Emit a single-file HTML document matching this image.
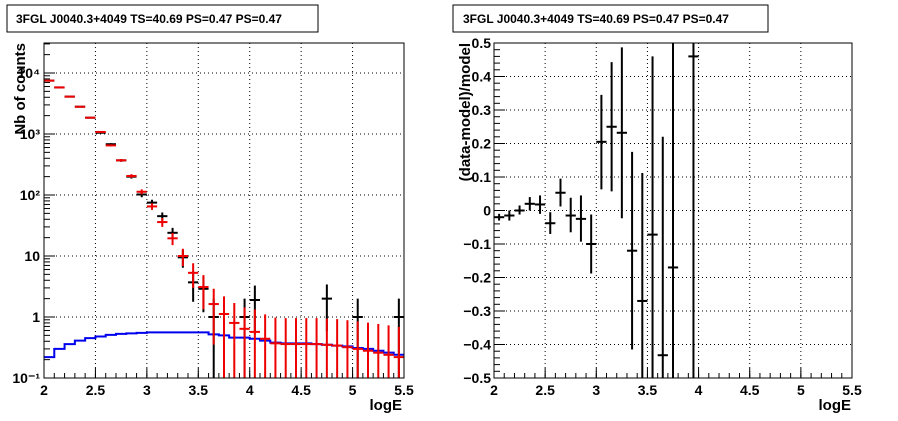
<!DOCTYPE html>
<html><head><meta charset="utf-8"><style>
html,body{margin:0;padding:0;background:#fff;}
svg{display:block;font-family:"Liberation Sans",Arial,sans-serif;}
</style></head><body>
<svg id="c" width="898" height="421" viewBox="0 0 898 421" xmlns="http://www.w3.org/2000/svg">
<rect x="0" y="0" width="898" height="421" fill="#fff"/>
<g id="L"></g>
<g id="R"></g>
</svg>
<script>
const binCenters=[2.05,2.15,2.25,2.35,2.45,2.55,2.65,2.75,2.85,2.95,3.05,3.15,3.25,3.35,3.45,3.55,3.65,3.75,3.85,3.95,4.05,4.15,4.25,4.35,4.45,4.55,4.65,4.75,4.85,4.95,5.05,5.15,5.25,5.35,5.45];
const dataCounts=[7500,5800,4100,2800,1850,1050,680,370,200,102,75,45,24,9.5,3.7,2.9,1,0,0,1,1.9,0,0,0,0,0,0,2,0,0,1,0,0,0,1];
const modelCounts=[7500,5800,4100,2800,1850,1080,650,370,205,113,65,36,19.5,10,5.3,3.1,1.63,1.12,0.8,0.64,0.57,0.44,0.37,0.36,0.36,0.36,0.36,0.35,0.34,0.32,0.30,0.28,0.26,0.24,0.22];
const blueModel=[0.22,0.30,0.36,0.41,0.45,0.48,0.51,0.53,0.54,0.55,0.56,0.56,0.56,0.56,0.56,0.56,0.52,0.50,0.46,0.46,0.44,0.41,0.38,0.37,0.37,0.37,0.36,0.35,0.34,0.33,0.31,0.30,0.28,0.26,0.24];
const resCenters=[2.05,2.15,2.25,2.35,2.45,2.55,2.65,2.75,2.85,2.95,3.05,3.15,3.25,3.35,3.45,3.55,3.65,3.75,3.95];
const resValues=[-0.02,-0.015,0.0,0.02,0.018,-0.038,0.053,-0.015,-0.025,-0.1,0.205,0.25,0.232,-0.12,-0.27,-0.072,-0.432,-0.17,0.46];
const resHi=[-0.01,0.0,0.015,0.04,0.045,-0.005,0.095,0.038,0.045,-0.012,0.345,0.443,0.487,0.175,0.112,0.46,0.22,1,1];
const resLo=[-0.03,-0.03,-0.012,0.0,-0.01,-0.07,0.012,-0.065,-0.093,-0.188,0.063,0.057,-0.023,-0.415,-1,-0.6,-1,-1,-1];
const xTickLabels=["2","2.5","3","3.5","4","4.5","5","5.5"];
const resTickLabels=["0.5","0.4","0.3","0.2","0.1","0","\u22120.1","\u22120.2","\u22120.3","\u22120.4","\u22120.5"];

const NS="http://www.w3.org/2000/svg";
function mk(p,t,a,txt){const e=document.createElementNS(NS,t);for(const k in a)e.setAttribute(k,a[k]);if(txt!==undefined)e.textContent=txt;p.appendChild(e);return e;}

// Left panel
const L=document.getElementById('L');
const lx0=44,lx1=404,ly0=43,ly1=378;
const lX=v=>lx0+(v-2)/3.5*(lx1-lx0);
const yMaxLog=Math.log10(0.1)+(ly1-ly0)/61;
const lY=v=>ly1-(Math.log10(Math.max(v,1e-9))+1)*61;
const clampY=y=>Math.min(ly1,Math.max(ly0,y));
// title box
let t=mk(L,'rect',{x:7,y:5,width:311,height:27,fill:'#fff',stroke:'#000','stroke-width':1});

t=mk(L,'text',{x:16,y:23,'font-size':12,'font-weight':'bold'},'3FGL J0040.3+4049 TS=40.69 PS=0.47 PS=0.47');

// grid
for(let i=0;i<xTickLabels.length;i++){const v=2+i*0.5,x=lX(v);
 if(i>0&&i<7){const g=mk(L,'line',{x1:x,x2:x,y1:ly0,y2:ly1,stroke:'#000','stroke-dasharray':'1,3'});}
 const tk=mk(L,'line',{x1:x,x2:x,y1:ly1,y2:ly1-10,stroke:'#000'});
 const tl=mk(L,'text',{x:x,y:395,'font-size':14,'font-weight':'bold','text-anchor':'middle'},xTickLabels[i]);
}
for(let v=2.1;v<5.5;v+=0.1){const x=lX(v);const m=mk(L,'line',{x1:x,x2:x,y1:ly1,y2:ly1-5,stroke:'#000'});}
const decs=[-1,0,1,2,3,4];
const decLabels=["10\u207B\u00B9","1","10","10\u00B2","10\u00B3","10\u2074"];
decs.forEach((d,i)=>{const y=lY(Math.pow(10,d));
 if(d>-1){const g=mk(L,'line',{x1:lx0,x2:lx1,y1:y,y2:y,stroke:'#000','stroke-dasharray':'1,3'});}
 const tk=mk(L,'line',{x1:lx0,x2:lx0+11,y1:y,y2:y,stroke:'#000'});
 const tl=mk(L,'text',{x:lx0-4,y:y+5,'font-size':14,'font-weight':'bold','text-anchor':'end'},decLabels[i]);
 for(let k=2;k<10;k++){const yy=lY(k*Math.pow(10,d));if(yy<ly0)break;const m=mk(L,'line',{x1:lx0,x2:lx0+6,y1:yy,y2:yy,stroke:'#000'});}
});
t=mk(L,'text',{x:0,y:0,'font-size':15,'font-weight':'bold','text-anchor':'end',transform:'translate(25,43) rotate(-90)'},'Nb of counts');

t=mk(L,'text',{x:402,y:410,'font-size':15,'font-weight':'bold','text-anchor':'end'},'logE');

// blue histogram
let d='';
binCenters.forEach((c,i)=>{const y=clampY(lY(blueModel[i]));const xa=lX(c-0.05),xb=lX(c+0.05);d+=(i===0?'M':'L')+xa+','+y+'L'+xb+','+y;});
t=mk(L,'path',{d:d,fill:'none',stroke:'#0000ee','stroke-width':2});

// data (black)
binCenters.forEach((c,i)=>{const n=dataCounts[i];if(n<=0)return;const s=Math.sqrt(n);
 const x=lX(c),y=lY(n);const g=mk(L,'g',{});
 mk(g,'line',{x1:lX(c-0.05),x2:lX(c+0.05),y1:y,y2:y,stroke:'#000','stroke-width':2});
 mk(g,'line',{x1:x,x2:x,y1:clampY(lY(n+s)),y2:clampY(lY(n-s)),stroke:'#000','stroke-width':2});
});
// model (red)
binCenters.forEach((c,i)=>{const n=modelCounts[i];const s=Math.sqrt(n);
 const x=lX(c),y=lY(n);const g=mk(L,'g',{});
 mk(g,'line',{x1:lX(c-0.05),x2:lX(c+0.05),y1:y,y2:y,stroke:'#ee0000','stroke-width':2});
 mk(g,'line',{x1:x,x2:x,y1:clampY(lY(n+s)),y2:clampY(lY(n-s)),stroke:'#ee0000','stroke-width':2});
});
t=mk(L,'rect',{x:lx0,y:ly0,width:lx1-lx0,height:ly1-ly0,fill:'none',stroke:'#000','stroke-width':1});


// Right panel
const R=document.getElementById('R');
const rx0=494,rx1=852,ry0=43,ry1=378;
const rX=v=>rx0+(v-2)/3.5*(rx1-rx0);
const rY=v=>ry0+(0.5-v)/1.0*(ry1-ry0);
const rc=y=>Math.min(ry1,Math.max(ry0,y));
t=mk(R,'rect',{x:453,y:5,width:315,height:27,fill:'#fff',stroke:'#000','stroke-width':1});

t=mk(R,'text',{x:463,y:23,'font-size':12,'font-weight':'bold'},'3FGL J0040.3+4049 TS=40.69 PS=0.47 PS=0.47');

for(let i=0;i<xTickLabels.length;i++){const v=2+i*0.5,x=rX(v);
 if(i>0&&i<7){const g=mk(R,'line',{x1:x,x2:x,y1:ry0,y2:ry1,stroke:'#000','stroke-dasharray':'1,3'});}
 const tk=mk(R,'line',{x1:x,x2:x,y1:ry1,y2:ry1-10,stroke:'#000'});
 const tl=mk(R,'text',{x:x,y:395,'font-size':14,'font-weight':'bold','text-anchor':'middle'},xTickLabels[i]);
}
for(let v=2.1;v<5.5;v+=0.1){const x=rX(v);const m=mk(R,'line',{x1:x,x2:x,y1:ry1,y2:ry1-5,stroke:'#000'});}
resTickLabels.forEach((lb,i)=>{const v=0.5-i*0.1,y=rY(v);
 if(i>0&&i<10){const g=mk(R,'line',{x1:rx0,x2:rx1,y1:y,y2:y,stroke:'#000','stroke-dasharray':'1,3'});}
 const tk=mk(R,'line',{x1:rx0,x2:rx0+11,y1:y,y2:y,stroke:'#000'});
 const tl=mk(R,'text',{x:rx0-3,y:y+5,'font-size':14,'font-weight':'bold','text-anchor':'end'},lb);
});
for(let v=-0.48;v<0.5;v+=0.02){const y=rY(v);const m=mk(R,'line',{x1:rx0,x2:rx0+6,y1:y,y2:y,stroke:'#000'});}
t=mk(R,'text',{x:0,y:0,'font-size':15,'font-weight':'bold','text-anchor':'end',transform:'translate(470,43) rotate(-90)'},'(data-model)/model');

t=mk(R,'text',{x:851,y:410,'font-size':15,'font-weight':'bold','text-anchor':'end'},'logE');

resCenters.forEach((c,i)=>{const x=rX(c),y=rY(resValues[i]);const g=mk(R,'g',{});
 mk(g,'line',{x1:rX(c-0.05),x2:rX(c+0.05),y1:y,y2:y,stroke:'#000','stroke-width':2});
 mk(g,'line',{x1:x,x2:x,y1:rc(rY(resHi[i])),y2:rc(rY(resLo[i])),stroke:'#000','stroke-width':2});
});
t=mk(R,'rect',{x:rx0,y:ry0,width:rx1-rx0,height:ry1-ry0,fill:'none',stroke:'#000','stroke-width':1});

</script>
</body></html>
